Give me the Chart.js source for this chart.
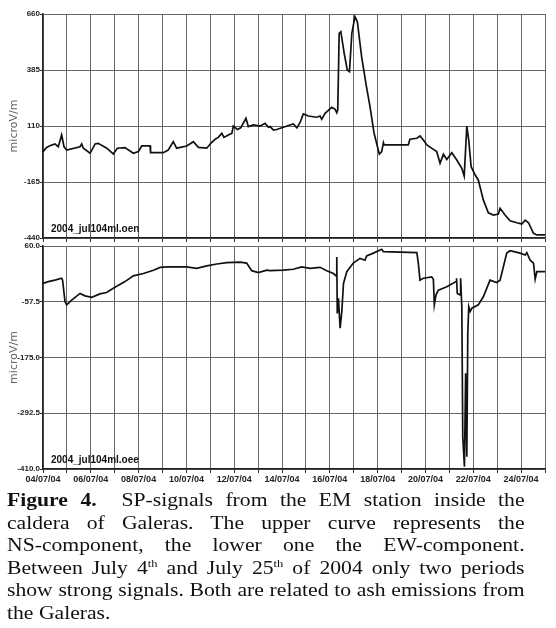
<!DOCTYPE html>
<html>
<head>
<meta charset="utf-8">
<script src="https://cdn.jsdelivr.net/npm/chart.js@4"></script>
<style>
  body { margin: 0; background: #fff; width: 556px; height: 628px; position: relative; overflow: hidden; }
  canvas { position: absolute; left: 0; }
  #ns { top: 0; }
  #ew { top: 240px; }
  #caption {
    position: absolute; top: 489px; left: 7px; width: 454px;
    transform: scaleX(1.14); transform-origin: 0 0;
    font-family: "Liberation Serif", serif; font-size: 19px; line-height: 22.6px;
    color: #111;
  }
  #caption div { white-space: nowrap; text-align: justify; text-align-last: justify; }
  #caption div.last { text-align-last: left; }
  #caption sup { font-size: 11px; line-height: 0; }
</style>
</head>
<body>
<canvas id="ns" width="556" height="244"></canvas>
<canvas id="ew" width="556" height="248"></canvas>
<div id="caption">
  <div><b>Figure 4.</b>&nbsp; SP-signals from the EM station inside the</div>
  <div>caldera of Galeras. The upper curve represents the</div>
  <div>NS-component, the lower one the EW-component.</div>
  <div>Between July 4<sup>th</sup> and July 25<sup>th</sup> of 2004 only two periods</div>
  <div>show strong signals. Both are related to ash emissions from</div>
  <div class="last">the Galeras.</div>
</div>
<script>
// days since 04/07/04 00:00
const dateLabels = ["04/07/04", "06/07/04", "08/07/04", "10/07/04", "12/07/04", "14/07/04",
  "16/07/04", "18/07/04", "20/07/04", "22/07/04", "24/07/04"];
const nsTicks = [660, 385, 110, -165, -440];
const ewTicks = [60, -57.5, -175, -292.5, -410];

const nsDays = [0, 0.15, 0.29, 0.5, 0.64, 0.78, 0.88, 0.99, 1.55, 1.62, 1.69, 1.97, 2.18, 2.31, 2.67, 2.94,
  3.11, 3.43, 3.78, 3.99, 4.13, 4.48, 4.5, 5.03, 5.24, 5.45, 5.59, 6.01, 6.29, 6.5, 6.85, 7.02, 7.2, 7.33,
  7.48, 7.57, 7.75, 7.9, 7.96, 8.13, 8.27, 8.49, 8.59, 8.8, 9.08, 9.29, 9.43, 9.5, 9.64, 9.78, 10.33, 10.47,
  10.62, 10.75, 10.89, 11.1, 11.45, 11.59, 11.66, 11.8, 12.08, 12.22, 12.29, 12.33, 12.39, 12.46, 12.6,
  12.73, 12.82, 12.92, 13.05, 13.15, 13.33, 13.53, 13.68, 13.85, 14.07, 14.17, 14.24, 14.27, 15.28, 15.35,
  15.64, 15.77, 15.91, 16.06, 16.33, 16.47, 16.61, 16.75, 16.89, 17.1, 17.31, 17.52, 17.62, 17.73, 17.81,
  17.91, 18.08, 18.21, 18.42, 18.63, 18.84, 19.05, 19.12, 19.33, 19.54, 19.82, 20.03, 20.17, 20.31, 20.52,
  20.66, 21];
const nsValues = [-16, 5, 13, 22, 8, 66, 8, -8, 8, 22, 1, -24, 22, 25, 1, -27,
  1, 4, -24, -16, 12, 12, -21, -21, -8, 33, 1, 12, 33, 5, 1, 25, 45, 54,
  74, 54, 66, 74, 110, 93, 101, 148, 107, 115, 110, 123, 104, 107, 90, 93, 115, 120,
  101, 126, 169, 159, 153, 159, 143, 172, 202, 192, 175, 189, 565, 573, 467,
  385, 377, 565, 647, 622, 450, 303, 205, 74, -28, -16, 28, 17, 17, 45,
  50, 61, 41, 17, -5, -16, -73, -28, -54, -21, -57, -98, -136, 110, 41,
  -90, -131, -155, -253, -316, -327, -322, -294, -327, -355, -365, -371, -352, -365, -417,
  -425, -425];

const ewDays = [0, 0.22, 0.5, 0.78, 0.82, 0.92, 0.99, 1.2, 1.55, 1.76, 2.04, 2.38, 2.66, 3.01, 3.43, 3.78,
  4.2, 4.62, 4.9, 5.18, 6.01, 6.43, 6.85, 7.27, 7.69, 8.24, 8.52, 8.73, 9.01, 9.36, 9.5, 10.05, 10.47,
  10.82, 11.17, 11.59, 11.87, 12.15, 12.26, 12.29, 12.31, 12.36, 12.43, 12.5, 12.57, 12.71, 12.98, 13.26,
  13.47, 13.54, 13.82, 14.17, 14.24, 15.64, 15.7, 15.77, 15.91, 16.26, 16.33, 16.37, 16.44, 16.54, 16.89,
  17.28, 17.3, 17.33, 17.45, 17.47, 17.52, 17.56, 17.63, 17.68, 17.73, 17.77, 17.81, 17.87, 17.94, 18.21,
  18.42, 18.7, 18.98, 19.12, 19.4, 19.54, 19.96, 20.17, 20.24, 20.38, 20.52, 20.59, 20.66, 21];
const ewValues = [-19, -15, -12, -8, -12, -57, -64, -54, -40, -45, -48, -41, -38, -27, -15, -3,
  2, 9, 15, 16, 16, 13, 18, 22, 25, 26, 24, 8, 4, 9, 8, 9, 11,
  16, 13, 15, 8, 2, -3, 37, -82, -50, -113, -78, -19, 6, 24, 34,
  30, 39, 45, 53, 48, 46, 24, -12, -8, -5, -10, -64, -43, -33, -26,
  -15, -8, -40, -43, -8, -68, -342, -405, -208, -384, -124, -68, -78, -71, -64,
  -47, -12, -17, -12, 45, 50, 45, 41, 46, 30, 24, -10, 6, 6];

const fileLabel = {
  id: "fileLabel",
  afterDraw(chart, args, opts) {
    const ctx = chart.ctx, a = chart.chartArea;
    ctx.save();
    ctx.font = "bold 10px 'Liberation Sans'";
    ctx.fillStyle = "#111";
    ctx.fillText(opts.text, a.left + 8, a.bottom - 6);
    ctx.restore();
  }
};

function makeChart(id, days, values, ticks, fmt, name, opts) {
  const pts = days.map((d, i) => ({ x: d, y: values[i] }));
  return new Chart(document.getElementById(id), {
    type: "line",
    data: { datasets: [{ data: pts, borderColor: "#111", borderWidth: 1.7, pointRadius: 0, tension: 0 }] },
    options: {
      responsive: false,
      animation: false,
      events: [],
      layout: { padding: { left: 0, right: 11, top: opts.top, bottom: 0 } },
      plugins: { legend: { display: false }, tooltip: { enabled: false }, fileLabel: { text: name } },
      scales: {
        x: {
          type: "linear", min: 0, max: 21,
          afterBuildTicks: s => { s.ticks = dateLabels.flatMap((l, i) => [{ value: i * 2 }, { value: i * 2 + 1 }]); },
          afterFit: s => { s.height = opts.xh; },
          grid: { color: "#666", lineWidth: 1, tickLength: 4, tickColor: "#333" },
          border: { color: "#222", width: 1.5 },
          ticks: {
            display: opts.xlabels, autoSkip: false, maxRotation: 0, padding: 1,
            color: "#222", font: { family: "Liberation Sans", weight: "bold", size: 9 },
            callback: v => (v % 2 === 0 ? dateLabels[v / 2] : "")
          }
        },
        y: {
          min: ticks[ticks.length - 1], max: ticks[0],
          afterBuildTicks: s => { s.ticks = ticks.map(v => ({ value: v })); },
          afterFit: s => { s.width = 43; },
          grid: { color: "#666", lineWidth: 1, tickLength: 3, tickColor: "#333" },
          border: { color: "#222", width: 1.5 },
          ticks: {
            padding: 0, color: "#222",
            font: { family: "Liberation Sans", weight: "bold", size: 8 },
            callback: fmt
          },
          title: {
            display: true, text: "microV/m", color: "#666",
            font: { family: "DejaVu Sans", size: 11 }, padding: { top: 8, bottom: 0 }
          }
        }
      }
    },
    plugins: [fileLabel]
  });
}

makeChart("ns", nsDays, nsValues, nsTicks, v => String(v), "2004_jul104ml.oen",
  { top: 14, xh: 6, xlabels: false });
makeChart("ew", ewDays, ewValues, ewTicks, v => v.toFixed(1), "2004_jul104ml.oee",
  { top: 6, xh: 19, xlabels: true });
</script>
</body>
</html>
